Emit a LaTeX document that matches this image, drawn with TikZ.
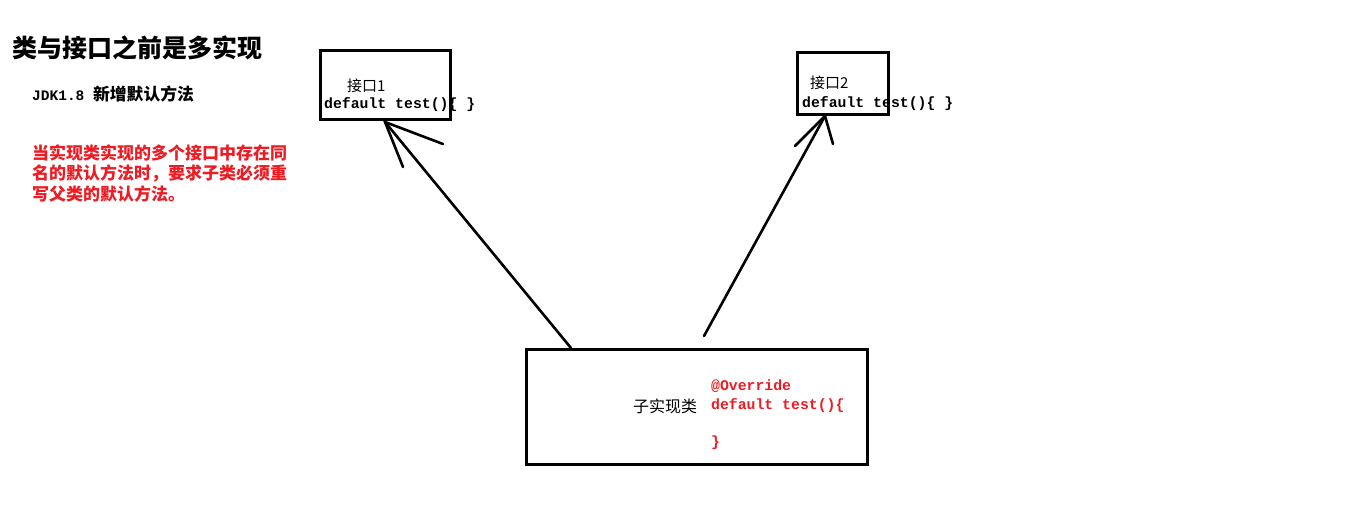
\documentclass[tikz,border=0pt]{standalone}
\usepackage{fontspec}
\setmainfont{Noto Sans CJK SC}
\newfontfamily\cjk{Noto Sans CJK SC}
\newfontfamily\monof{Liberation Mono}
\definecolor{txtred}{RGB}{237,28,36}
\tikzset{
  box/.style={draw=black,line width=3pt,inner sep=0pt,rectangle},
  conn/.style={draw=black,line width=2.6pt,line cap=round},
  lbl/.style={inner sep=0pt,anchor=west},
  code/.style={lbl,font=\monof\bfseries\fontsize{14.8}{16}\selectfont},
}
\begin{document}
\begin{tikzpicture}[x=1pt,y=-1pt]
\useasboundingbox[fill=white] (0,0) rectangle (1360,531);
% boxes
\node[box,minimum width=130pt,minimum height=69pt] (b1) at (385,84.5) {};
\node[box,minimum width=91pt,minimum height=62pt] (b2) at (842.5,83) {};
\node[box,minimum width=341pt,minimum height=115pt] (b3) at (696.5,406.5) {};
% texts
\node[lbl,font=\cjk\bfseries\fontsize{25}{28}\selectfont] (title) at (12,48) {类与接口之前是多实现};
\node[lbl] (jdk) at (32,94) {{\monof\bfseries\fontsize{14.5}{16}\selectfont JDK1.8 }{\cjk\bfseries\fontsize{16.8}{18}\selectfont 新增默认方法}};
\node[lbl,text=txtred,font=\cjk\bfseries\fontsize{17}{20}\selectfont] (r1) at (32,153) {当实现类实现的多个接口中存在同};
\node[lbl,text=txtred,font=\cjk\bfseries\fontsize{17}{20}\selectfont] (r2) at (32,173.5) {名的默认方法时，要求子类必须重};
\node[lbl,text=txtred,font=\cjk\bfseries\fontsize{17}{20}\selectfont] (r3) at (32,194) {写父类的默认方法。};
\node[lbl,font=\cjk\fontsize{15}{17}\selectfont] (i1) at (347,86) {接口1};
\node[code] (d1) at (324,105) {default test()\{ \}};
\node[lbl,font=\cjk\fontsize{15}{17}\selectfont] (i2) at (810,83) {接口2};
\node[code] (d2) at (802,104) {default test()\{ \}};
\node[lbl,font=\cjk\fontsize{16}{18}\selectfont] (sub) at (633,406) {子实现类};
\node[code,text=txtred] (ov) at (711,386) {@Override};
\node[code,text=txtred] (d3) at (711,406) {default test()\{};
\node[code,text=txtred] (cb) at (711,443) {\}};
% connectors
\coordinate (s1) at (571,348);
\coordinate (t1) at (385,122);
\coordinate (s2) at (704,336);
\coordinate (t2) at (825,116);
\draw[conn] (s1) -- (t1);
\draw[conn] (403,167) -- (t1) -- (443,144);
\draw[conn] (s2) -- (t2);
\draw[conn] (795,146) -- (t2) -- (833,144);
\end{tikzpicture}
\end{document}
